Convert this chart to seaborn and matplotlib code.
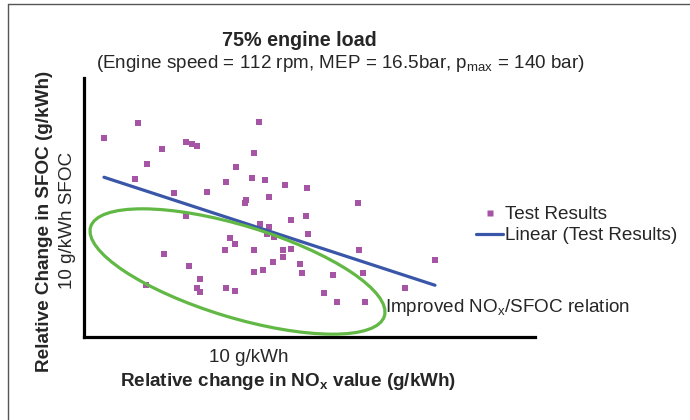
import matplotlib
matplotlib.use("Agg")
import matplotlib.pyplot as plt
from matplotlib.patches import Ellipse
from matplotlib.lines import Line2D
import numpy as np
import pandas as pd
import seaborn as sns

# Relative change in NOx (x) and SFOC (y) per test run, in chart units (10 units = 10 g/kWh scale bar)
nox_change = [2.0, 5.4, 7.8, 10.2, 10.8, 11.3, 17.5, 17.0, 6.3, 15.2,
              5.1, 14.2, 16.8, 18.1, 9.0, 12.3, 18.5, 16.2, 16.1, 10.2,
              20.1, 22.3, 27.4, 20.7, 22.2, 17.6, 18.5, 18.3, 19.0, 14.6,
              15.1, 14.1, 17.0, 8.0, 18.9, 10.5, 17.0, 17.9, 11.6, 6.2,
              11.3, 11.6, 14.2, 15.1, 22.4, 19.9, 20.7, 19.9, 21.6, 21.8,
              27.5, 24.9, 27.9, 35.1, 32.1, 24.0, 25.3, 28.1]
sfoc_change = [19.9, 21.4, 18.8, 19.5, 19.3, 19.1, 21.5, 18.4, 17.3, 17.0,
               15.8, 15.5, 15.9, 15.7, 14.4, 14.5, 14.0, 13.7, 13.4, 12.1,
               15.2, 14.9, 13.4, 11.7, 12.1, 11.3, 11.0, 10.3, 10.0, 9.9,
               9.3, 8.7, 8.7, 8.3, 7.5, 7.1, 6.5, 6.7, 5.8, 5.2,
               4.9, 4.5, 4.9, 4.6, 10.3, 8.7, 8.8, 8.0, 7.3, 6.4,
               8.7, 6.2, 6.4, 7.7, 4.9, 4.4, 3.5, 3.5]

# Region marking the improved NOx/SFOC trade-off
region_center = (15.35, 6.55)
region_width, region_height, region_angle = 30.7, 9.2, -16.9

df = pd.DataFrame({"nox": nox_change, "sfoc": sfoc_change})

sns.set_style("white")
plt.rcParams["font.family"] = ["Liberation Sans", "DejaVu Sans"]
plt.rcParams["mathtext.default"] = "regular"

W, H = 690, 420
fig = plt.figure(figsize=(W / 100, H / 100), dpi=100)
ax = fig.add_axes([84 / W, 1 - 337 / H, 451 / W, 259 / H])

POINT_COLOR = "#A655A5"
TREND_COLOR = "#3A56A8"
REGION_COLOR = "#62B845"
FS = 13.6

sns.scatterplot(data=df, x="nox", y="sfoc", marker="s", s=22, color=POINT_COLOR,
                edgecolor="none", ax=ax, zorder=2)
sns.regplot(data=df, x="nox", y="sfoc", scatter=False, ci=None, ax=ax,
            line_kws=dict(color=TREND_COLOR, lw=2.3, zorder=3))

ax.add_patch(Ellipse(region_center, region_width, region_height, angle=region_angle,
                     fill=False, edgecolor=REGION_COLOR, lw=2.3, zorder=4))

ax.set_xlim(0, 45.1)
ax.set_ylim(0, 25.9)
ax.set_xticks([])
ax.set_yticks([])
ax.set_xlabel("")
ax.set_ylabel("")
for side in ("top", "right"):
    ax.spines[side].set_visible(False)
for side in ("left", "bottom"):
    ax.spines[side].set_color("black")
    ax.spines[side].set_linewidth(2.3)

def px(x, y):
    return x / W, 1 - y / H

# Titles
fig.text(*px(299, 41), "75% engine load", ha="center", va="center",
         fontsize=14.2, fontweight="bold")
fig.text(*px(340, 63), "(Engine speed = 112 rpm, MEP = 16.5bar, p$_{max}$ = 140 bar)",
         ha="center", va="center", fontsize=FS)

# Axis labels and scale notes
fig.text(*px(45, 221), "Relative Change in SFOC (g/kWh)", rotation=90, ha="center",
         va="center", fontsize=FS, fontweight="bold")
fig.text(*px(68, 220), "10 g/kWh SFOC", rotation=90, ha="center", va="center",
         fontsize=FS)
fig.text(*px(249, 357), "10 g/kWh", ha="center", va="center", fontsize=FS)
fig.text(*px(288, 382), "Relative change in NO$_{x}$ value (g/kWh)", ha="center",
         va="center", fontsize=FS, fontweight="bold")

fig.text(*px(385, 308), "Improved NO$_{x}$/SFOC relation", ha="left", va="center",
         fontsize=FS)

# Legend
handles = [
    Line2D([], [], ls="none", marker="s", markersize=4.6, color=POINT_COLOR, mec="none"),
    Line2D([], [], color=TREND_COLOR, lw=2.3),
]
fig.legend(handles, ["Test Results", "Linear (Test Results)"], loc="upper left",
           bbox_to_anchor=px(476, 206), frameon=False, fontsize=FS,
           handlelength=1.45, handletextpad=0.1, labelspacing=0.2,
           borderpad=0, borderaxespad=0)

# Outer frame lines
fig.add_artist(Line2D([8 / W, 8 / W], [0, 1 - 4 / H], color="#555555", lw=1))
fig.add_artist(Line2D([8 / W, 1], [1 - 4 / H, 1 - 4 / H], color="#555555", lw=1))

fig.savefig("out.png", dpi=100)
